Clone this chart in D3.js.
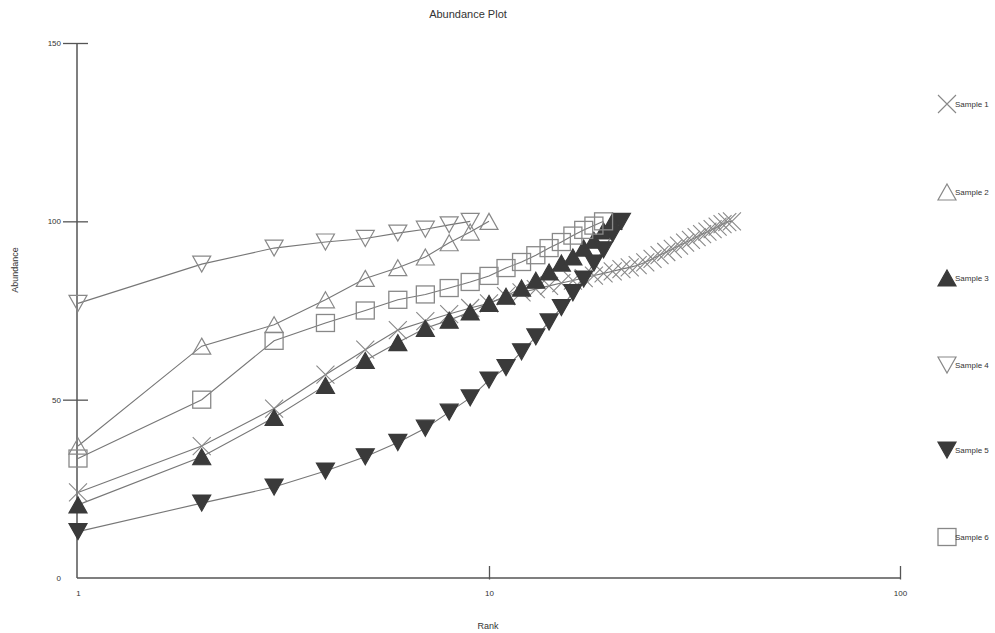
<!DOCTYPE html>
<html>
<head>
<meta charset="utf-8">
<script src="https://cdn.jsdelivr.net/npm/d3@7"></script>
<style>
  html, body { margin: 0; padding: 0; background: #fff; }
  svg { display: block; font-family: "Liberation Sans", Arial, sans-serif; }
</style>
</head>
<body>
<svg id="chart" width="995" height="633"></svg>
<script>
// ---- Data (cumulative abundance vs. rank) ----
const seriesNames = ["Sample 1", "Sample 2", "Sample 3", "Sample 4", "Sample 5", "Sample 6"];
const sample1 = [24, 37, 47.5, 57, 64, 69.5, 72, 74, 75.7, 77, 79, 80.1, 81, 81.9, 82.7, 83.4, 84.1, 84.8, 85.4, 86,
                 86.6, 87.1, 87.7, 88.5, 89.5, 90.5, 91.4, 92.3, 93.2, 94, 94.8, 95.6, 96.4, 97.1, 97.8, 98.5, 99.2, 99.8, 100];
const sample2 = [37, 65, 71, 78, 84, 87, 90, 94, 97, 100];
const sample3 = [20.5, 34, 45, 54, 61, 66, 70, 72.3, 74.6, 77, 79, 81.3, 83.5, 85.8, 88.3, 90, 92.5, 94.7, 97.3, 100];
const sample4 = [77, 88, 92.5, 94.2, 95.2, 96.7, 97.8, 99, 100];
const sample5 = [13, 21, 25.5, 30, 34, 38, 42, 46.5, 50.5, 55.5, 59, 63.4, 67.6, 71.8, 75.8, 80, 83.8, 88.3, 92, 96.5, 100];
const sample6 = [33.5, 50, 66.5, 71.5, 75, 78, 79.5, 81.3, 83, 84.7, 86.9, 88.6, 90.5, 92.5, 94.2, 96, 97.6, 98.8, 100];
const seriesValues = [sample1, sample2, sample3, sample4, sample5, sample6];
const markerTypes = ["cross", "triUp", "triUpFill", "triDown", "triDownFill", "square"];
const xTickValues = [1, 10, 100];
const yTickValues = [0, 50, 100, 150];

// ---- Layout ----
const svg = d3.select("#chart");
const x = d3.scaleLog().domain([1, 100]).range([78, 900]);
const y = d3.scaleLinear().domain([0, 150]).range([578, 43]);

const axisColor = "#555";
const lineColor = "#777";
const openStroke = "#888";
const fillDark = "#3a3a3a";
const textColor = "#333";

// Title
svg.append("text").attr("x", 468).attr("y", 18).attr("text-anchor", "middle")
  .attr("font-size", 11).attr("fill", textColor).text("Abundance Plot");

// Axis labels
svg.append("text").attr("x", 488).attr("y", 629).attr("text-anchor", "middle")
  .attr("font-size", 9).attr("fill", textColor).text("Rank");
svg.append("text").attr("transform", "translate(18,270) rotate(-90)").attr("text-anchor", "middle")
  .attr("font-size", 9).attr("fill", textColor).text("Abundance");

// Y axis
const yAxis = d3.axisLeft(y).tickValues(yTickValues).tickFormat(d3.format("d")).tickSizeInner(14).tickSizeOuter(0).tickPadding(2);
const gy = svg.append("g").attr("transform", "translate(77,0)").call(yAxis);
gy.select(".domain").attr("stroke", axisColor).attr("stroke-width", 1.5).attr("d", `M0,${y(150)}V${y(0)}`);
gy.selectAll(".tick line").attr("stroke", axisColor).attr("stroke-width", 1.3)
  .attr("x1", 11).attr("x2", -14).attr("display", d => d === 0 ? "none" : null);
gy.selectAll(".tick text").attr("font-size", 8).attr("fill", textColor).attr("x", -16)
  .attr("font-family", "Liberation Sans, Arial, sans-serif");

// X axis
const xAxis = d3.axisBottom(x).tickValues(xTickValues).tickFormat(d3.format("d")).tickSizeInner(-12).tickSizeOuter(0).tickPadding(14);
const gx = svg.append("g").attr("transform", "translate(0,578)").call(xAxis);
gx.select(".domain").attr("stroke", axisColor).attr("stroke-width", 1.5).attr("d", `M77,0H${x(100)}`);
gx.selectAll(".tick line").attr("stroke", axisColor).attr("stroke-width", 1.3)
  .attr("y1", 1.5).attr("y2", -12).attr("display", d => d === 1 ? "none" : null);
gx.selectAll(".tick text").attr("font-size", 8).attr("fill", textColor).attr("y", 12)
  .attr("font-family", "Liberation Sans, Arial, sans-serif");

// Marker drawing
function drawMarker(g, type, cx, cy) {
  const s = 9;
  if (type === "cross") {
    g.append("path").attr("d", `M${cx - s},${cy - s}L${cx + s},${cy + s}M${cx - s},${cy + s}L${cx + s},${cy - s}`)
      .attr("stroke", openStroke).attr("stroke-width", 1.1).attr("fill", "none");
  } else if (type === "triUp" || type === "triUpFill") {
    const h = 16;
    g.append("path").attr("d", `M${cx},${cy - h / 2}L${cx + s},${cy + h / 2}L${cx - s},${cy + h / 2}Z`)
      .attr("stroke", type === "triUp" ? openStroke : fillDark).attr("stroke-width", 1.2)
      .attr("fill", type === "triUp" ? "none" : fillDark);
  } else if (type === "triDown" || type === "triDownFill") {
    const h = 16;
    g.append("path").attr("d", `M${cx - s},${cy - h / 2}L${cx + s},${cy - h / 2}L${cx},${cy + h / 2}Z`)
      .attr("stroke", type === "triDown" ? openStroke : fillDark).attr("stroke-width", 1.2)
      .attr("fill", type === "triDown" ? "none" : fillDark);
  } else if (type === "square") {
    g.append("rect").attr("x", cx - 9).attr("y", cy - 8.5).attr("width", 18).attr("height", 17)
      .attr("stroke", openStroke).attr("stroke-width", 1.3).attr("fill", "none");
  }
}

const line = d3.line().x((d, i) => x(i + 1)).y(d => y(d));
const plot = svg.append("g");
seriesValues.forEach((vals, si) => {
  const g = plot.append("g").attr("class", "series");
  const type = markerTypes[si];
  g.append("path").datum(vals).attr("d", line).attr("fill", "none")
    .attr("stroke", lineColor).attr("stroke-width", 1.1);
  vals.forEach((v, i) => drawMarker(g, type, x(i + 1), y(v)));
});

// Legend
const legendY = [104, 192, 278, 365, 450, 537];
const legend = svg.append("g");
seriesNames.forEach((name, i) => {
  drawMarker(legend, markerTypes[i], 947, legendY[i]);
  legend.append("text").attr("x", 955).attr("y", legendY[i] + 3).attr("font-size", 8)
    .attr("fill", textColor).text(name);
});
</script>
</body>
</html>
